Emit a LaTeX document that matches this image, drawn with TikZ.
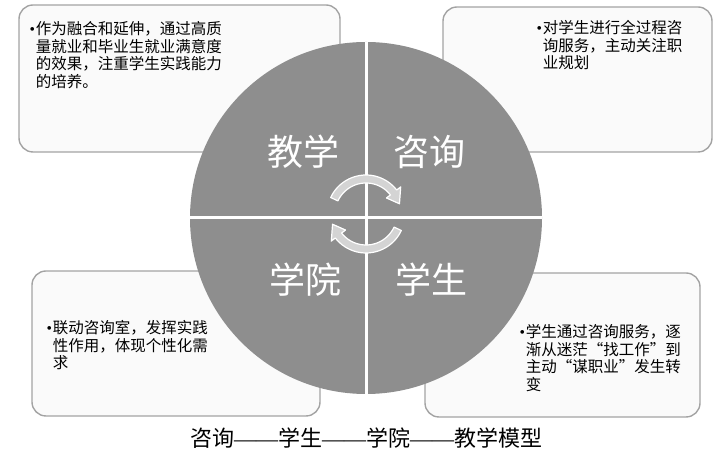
\documentclass[tikz,border=0pt]{standalone}
\usepackage{fontspec}
\setmainfont{Noto Sans CJK SC}
\newfontfamily\dotfont{Liberation Serif}
\usepackage{tikz}
\usetikzlibrary{positioning}
\definecolor{disc}{HTML}{8E8E8E}
\definecolor{boxline}{HTML}{A3A3A3}
\definecolor{boxfill}{HTML}{FAFAFA}
\definecolor{cycfill}{HTML}{D4D4D4}
\newcommand{\bul}{{\dotfont •}\kern1pt}
\newcommand{\ind}{\hphantom{\bul}}

\begin{document}
\begin{tikzpicture}[x=1pt,y=1pt,
  box/.style={draw=boxline,fill=boxfill,line width=1.4pt,rounded corners=14pt,
              inner sep=0pt},
  note/.style={anchor=north west,align=left,inner sep=0pt,
               font=\fontsize{15.5}{17.5}\selectfont},
  quad/.style={text=white,inner sep=0pt,font=\fontsize{36}{36}\selectfont},
  cyc/.style={fill=cycfill,draw=white,line width=1.2pt,line join=round}]
  \useasboundingbox (0,0) rectangle (720,457);
  % text boxes, behind the disc
  \node[box,minimum width=321pt,minimum height=147pt] (jxbox) at (179.5,378.5) {};
  \node[box,minimum width=269pt,minimum height=145pt] (zxbox) at (577.5,377.5) {};
  \node[box,minimum width=288pt,minimum height=145pt] (xybox) at (176,113.5) {};
  \node[box,minimum width=275pt,minimum height=144pt] (xsbox) at (562.5,112) {};
  \node[note] (jxtxt) at ([xshift=11pt,yshift=-17pt]jxbox.north west)
    {\bul 作为融合和延伸，通过高质\\\ind 量就业和毕业生就业满意度\\\ind 的效果，注重学生实践能力\\\ind 的培养。};
  \node[note] (zxtxt) at ([xshift=94pt,yshift=-14pt]zxbox.north west)
    {\bul 对学生进行全过程咨\\\ind 询服务，主动关注职\\\ind 业规划};
  \node[note] (xytxt) at ([xshift=15pt,yshift=-50pt]xybox.north west)
    {\bul 联动咨询室，发挥实践\\\ind 性作用，体现个性化需\\\ind 求};
  \node[note] (xstxt) at ([xshift=95pt,yshift=-52pt]xsbox.north west)
    {\bul 学生通过咨询服务，逐\\\ind 渐从迷茫“找工作”到\\\ind 主动“谋职业”发生转\\\ind 变};
  % the disc and its four quarters
  \node[circle,fill=disc,minimum size=352pt,inner sep=0pt] (disc) at (366,239) {};
  \draw[white,line width=3pt] (disc.north) -- (disc.south);
  \draw[white,line width=3pt] (disc.west) -- (disc.east);
  \node[quad] (jx) at (303,305) {教学};
  \node[quad] (zx) at (429,305) {咨询};
  \node[quad] (xy) at (305,177) {学院};
  \node[quad] (xs) at (431,177) {学生};
  % cycle arrows
  \coordinate (hub) at (366,243);
  \begin{scope}[shift={(hub)}]
    \draw[cyc] (155:39) arc[start angle=155,end angle=38,radius=39] -- (38:44)
      -- (17:35) -- (38:26) -- (38:31) arc[start angle=38,end angle=155,radius=31] -- cycle;
  \end{scope}
  \begin{scope}[shift={(hub)},rotate=180]
    \draw[cyc] (155:39) arc[start angle=155,end angle=38,radius=39] -- (38:44)
      -- (17:35) -- (38:26) -- (38:31) arc[start angle=38,end angle=155,radius=31] -- cycle;
  \end{scope}
  \node[font=\fontsize{22}{22}\selectfont] (cap) at (366,19)
    {咨询{\dotfont ——}学生{\dotfont ——}学院{\dotfont ——}教学模型};
\end{tikzpicture}
\end{document}
